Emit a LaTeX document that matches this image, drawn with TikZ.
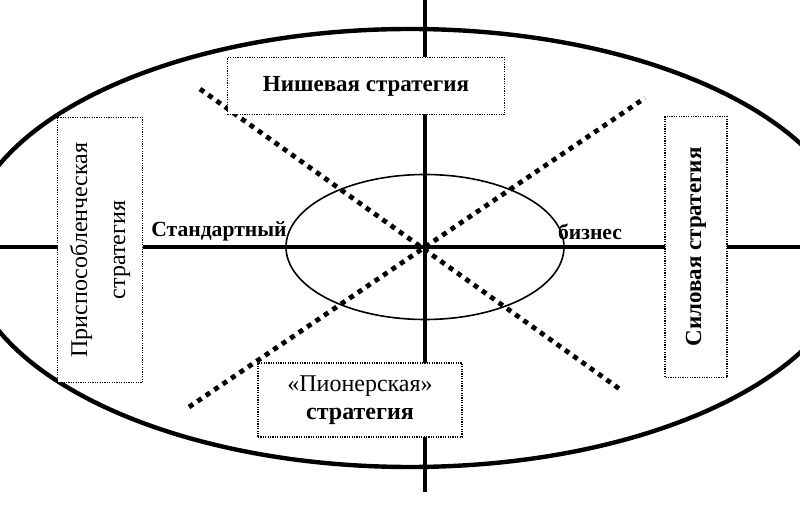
\documentclass[tikz,border=0pt]{standalone}
\usepackage{fontspec}
\setmainfont{Liberation Serif}
\usetikzlibrary{shapes.geometric, positioning, calc}
\tikzset{
  st box/.style={
    rectangle, draw=black, line width=0.6pt,
    dash pattern=on 0.6pt off 0.6pt, fill=white,
    align=center, inner sep=2pt,
    font=\fontsize{12}{14}\selectfont
  },
  st box bold/.style={
    st box, font=\fontsize{11.5}{14}\selectfont\bfseries
  },
  st label/.style={
    font=\fontsize{10.8}{13}\selectfont\bfseries, inner sep=1pt
  },
  st axis/.style={
    draw=black, line width=2pt
  },
  st rim/.style={
    draw=black, line width=2.2pt
  },
  st core/.style={
    ellipse, draw=black, line width=0.8pt,
    minimum width=139pt, minimum height=72.5pt, inner sep=0pt
  },
  st diag/.style={
    draw=black, line width=2.4pt, dash pattern=on 2.5pt off 2.6pt
  }
}

\begin{document}
\begin{tikzpicture}[x=0.5pt, y=-0.5pt]
  \useasboundingbox (0,0) rectangle (800,508);
  \clip (0,0) rectangle (800,508);

  \coordinate (o) at (425,247);
  \coordinate (n) at (425,0);
  \coordinate (s) at (425,492);
  \coordinate (w) at (0,247);
  \coordinate (e) at (800,247);
  \coordinate (nw) at (200,89);
  \coordinate (se) at (621,390);
  \coordinate (ne) at (645,98);
  \coordinate (sw) at (189,407);

  \draw [st axis] (n) -- (s);
  \draw [st axis] (w) -- (e);
  \draw [st diag] (nw) -- (se);
  \draw [st diag] (sw) -- (ne);
  \node (core) [st core] at (o) {};
  \draw [st rim] (410,248) ellipse (444 and 219);

  \node (niche) [st box bold, minimum width=138.5pt, minimum height=28.5pt]
    at (366,86) {Нишевая стратегия};
  \node (adapt) [st box, rotate=90, minimum width=132.5pt, minimum height=42.5pt]
    at (100,250) {Приспособленческая\\[5pt]стратегия};
  \node (power) [st box bold, rotate=90, minimum width=130.5pt, minimum height=31pt]
    at (696,247) {Силовая стратегия};
  \node (pioneer) [st box, minimum width=102pt, minimum height=37pt]
    at (360,400) {«Пионерская»\\\textbf{стратегия}};

  \node (std) [st label] at (219,231) {Стандартный};
  \node (biz) [st label] at (590,232) {бизнес};
\end{tikzpicture}
\end{document}
